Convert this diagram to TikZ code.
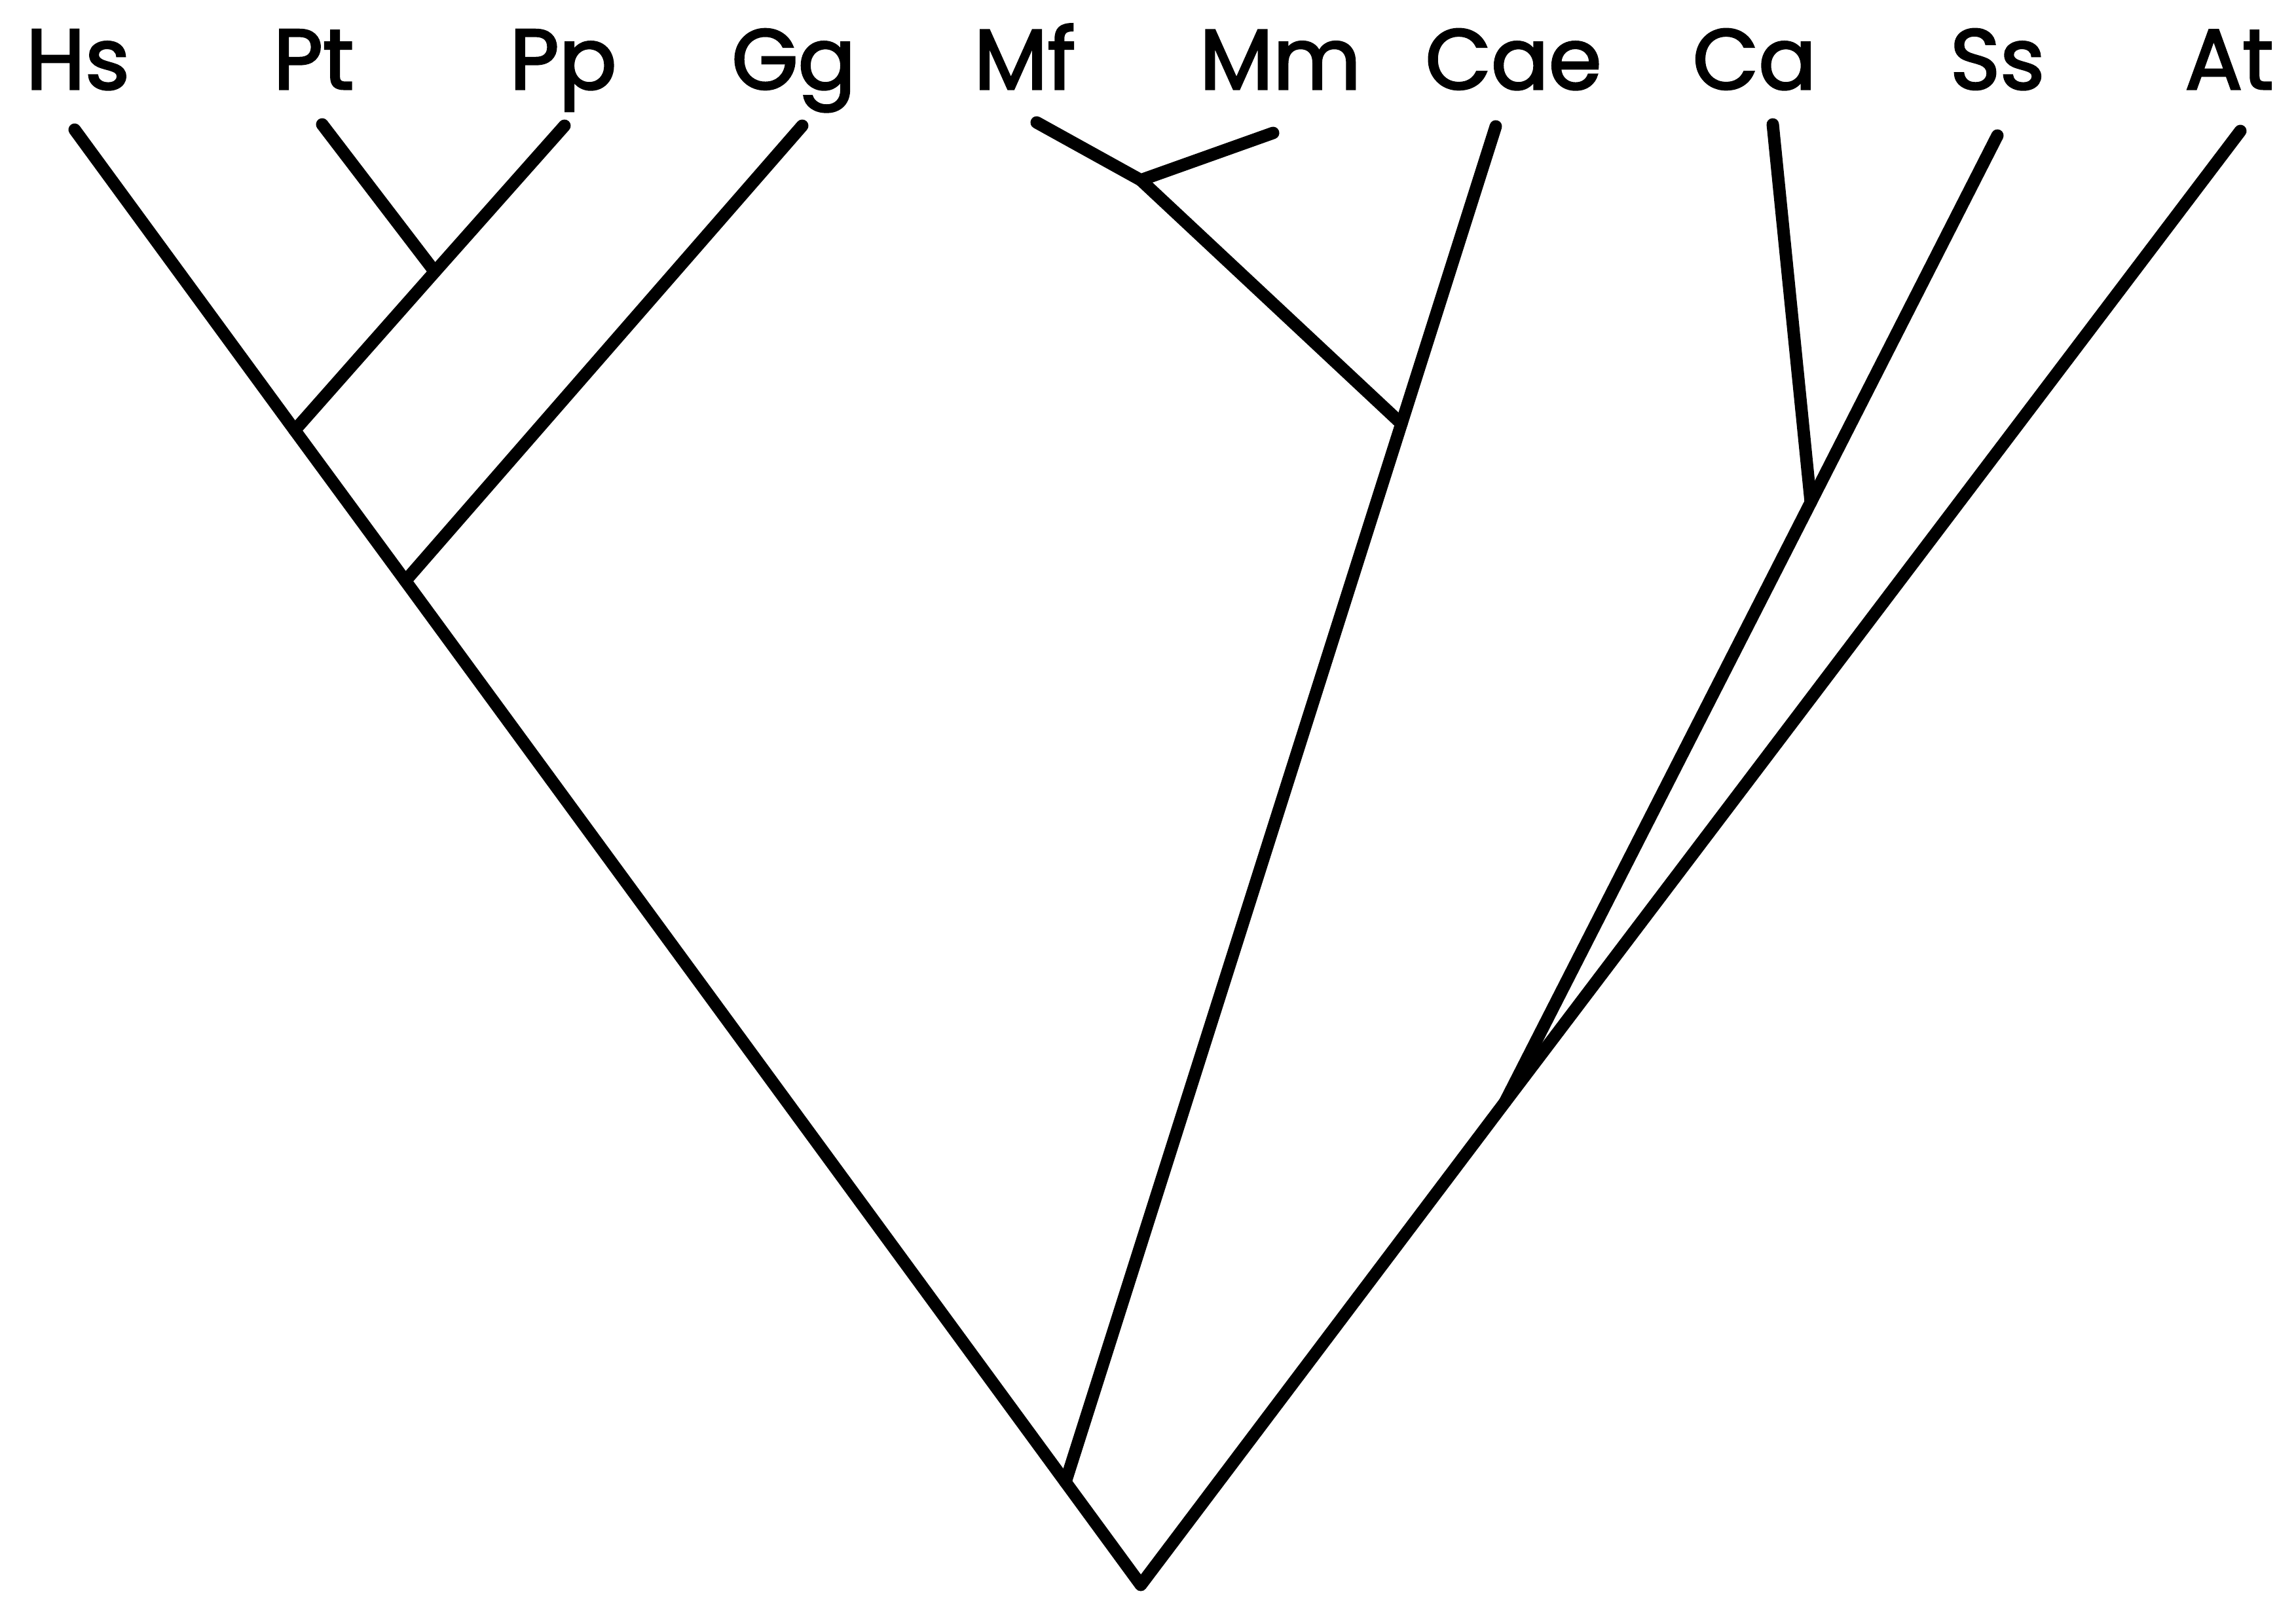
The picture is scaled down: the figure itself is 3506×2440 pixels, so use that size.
\documentclass[tikz,border=0pt]{standalone}
\usepackage{fontspec}
\setmainfont{Poppins}[FakeBold=2.4]
\begin{document}
\begin{tikzpicture}[x=0.01cm, y=-0.01cm,
  branch/.style={line width=5.4pt, line cap=round, line join=round},
  taxon/.style={anchor=base, inner sep=0pt, font=\fontsize{37}{40}\selectfont}]
\useasboundingbox (0,0) rectangle (3506,2440);

% taxon labels
\node[taxon] (hs)  at (119,136)  {Hs};
\node[taxon] (pt)  at (479,136)  {Pt};
\node[taxon] (pp)  at (860,136)  {Pp};
\node[taxon] (gg)  at (1212,136) {Gg};
\node[taxon] (mf)  at (1565,136) {Mf};
\node[taxon] (mm)  at (1955,136) {Mm};
\node[taxon] (cae) at (2311,136) {Cae};
\node[taxon] (ca)  at (2679,136) {Ca};
\node[taxon] (ss)  at (3050,136) {Ss};
\node[taxon] (at)  at (3404,136) {At};

% branch tips
\coordinate (hsT)  at (114,198);
\coordinate (ptT)  at (492,190);
\coordinate (ppT)  at (862,192);
\coordinate (ggT)  at (1225,192);
\coordinate (mfT)  at (1583,187);
\coordinate (mmT)  at (1944,203);
\coordinate (caeT) at (2284,193);
\coordinate (caT)  at (2707,190);
\coordinate (ssT)  at (3050,207);
\coordinate (atT)  at (3421,200);

% internal nodes
\coordinate (ptpp)   at (664,415);
\coordinate (hspp)   at (450,657);
\coordinate (hsgg)   at (619,887);
\coordinate (mfmm)   at (1742,275);
\coordinate (maccae) at (2140,647);
\coordinate (hscae)  at (1627,2263);
\coordinate (root)   at (1742,2420);
\coordinate (cass)   at (2765,767);
\coordinate (ssat)   at (2298,1683);

% tree
\draw[branch] (hsT) -- (hspp) -- (hsgg) -- (hscae) -- (root) -- (ssat) -- (atT);
\draw[branch] (ptT) -- (ptpp);
\draw[branch] (ppT) -- (ptpp) -- (hspp);
\draw[branch] (ggT) -- (hsgg);
\draw[branch] (mfT) -- (mfmm) -- (mmT);
\draw[branch] (mfmm) -- (maccae);
\draw[branch] (caeT) -- (maccae) -- (hscae);
\draw[branch] (caT) -- (cass);
\draw[branch] (ssT) -- (cass) -- (ssat);
\end{tikzpicture}
\end{document}
